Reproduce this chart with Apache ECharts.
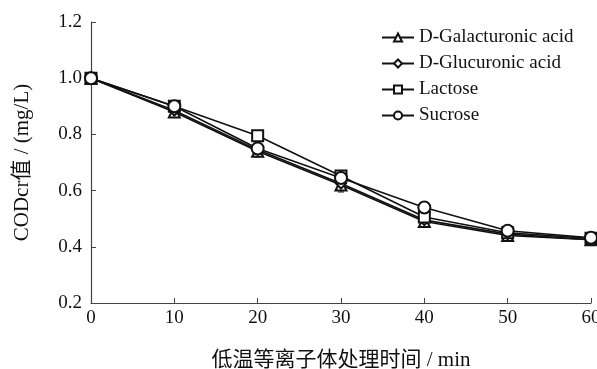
<!DOCTYPE html>
<html><head><meta charset="utf-8">
<script src="https://cdn.jsdelivr.net/npm/echarts@6/dist/echarts.min.js"></script>
<style>html,body{margin:0;padding:0;background:#fff}#c{width:597px;height:369px}</style>
</head><body><div id="c"></div>
<script>
const xValues = [0, 10, 20, 30, 40, 50, 60];
const galacturonic = [1.0, 0.88, 0.74, 0.62, 0.49, 0.44, 0.425];
const glucuronic = [1.0, 0.885, 0.745, 0.625, 0.495, 0.445, 0.425];
const lactose = [1.0, 0.90, 0.795, 0.652, 0.506, 0.45, 0.43];
const sucrose = [1.0, 0.90, 0.75, 0.645, 0.54, 0.457, 0.432];
const galacturonicErr = [0, 0.01, 0.02, 0.025, 0.01, 0.02, 0.015];
const seriesNames = ['D-Galacturonic acid', 'D-Glucuronic acid', 'Lactose', 'Sucrose'];
const yTicks = ['0.2', '0.4', '0.6', '0.8', '1.0', '1.2'];

const FONT = "'Liberation Serif', 'Noto Sans CJK SC', serif";
const symbols = ['emptyTriangle', 'emptyDiamond', 'emptyRect', 'emptyCircle'];
const sizes = [11, 10, 11, 12];
const allData = [galacturonic, glucuronic, lactose, sucrose];

const series = allData.map((d, i) => ({
  name: seriesNames[i], type: 'line',
  data: d.map((v, j) => [xValues[j], v]),
  symbol: symbols[i], symbolSize: sizes[i],
  lineStyle: {color: '#111', width: 1.6},
  itemStyle: {color: '#111', borderWidth: 1.6, borderColor: '#111'},
  z: 3 + i
}));

series.push({
  type: 'custom', name: 'err', silent: true, z: 2,
  data: galacturonic.map((v, j) => [xValues[j], v - galacturonicErr[j], v + galacturonicErr[j]]),
  renderItem: function (params, api) {
    const x = api.value(0);
    const lo = api.coord([x, api.value(1)]);
    const hi = api.coord([x, api.value(2)]);
    const w = 3;
    return {type: 'group', children: [
      {type: 'line', shape: {x1: lo[0], y1: lo[1], x2: hi[0], y2: hi[1]}, style: {stroke: '#111', lineWidth: 1}},
      {type: 'line', shape: {x1: lo[0]-w, y1: lo[1], x2: lo[0]+w, y2: lo[1]}, style: {stroke: '#111', lineWidth: 1}},
      {type: 'line', shape: {x1: hi[0]-w, y1: hi[1], x2: hi[0]+w, y2: hi[1]}, style: {stroke: '#111', lineWidth: 1}}
    ]};
  }
});

const chart = echarts.init(document.getElementById('c'), null, {renderer: 'canvas'});
chart.setOption({
  animation: false,
  backgroundColor: '#fff',
  grid: {left: 91, right: 6, top: 22, bottom: 66, containLabel: false, outerBoundsMode: 'none'},
  legend: {
    data: seriesNames, orient: 'vertical', left: 376, top: 23,
    itemWidth: 32, itemHeight: 10, itemGap: 7,
    textStyle: {fontFamily: FONT, fontSize: 19, color: '#111'},
    inactiveColor: '#111'
  },
  xAxis: {
    type: 'value', min: 0, max: 60, interval: 10,
    name: '低温等离子体处理时间 / min', nameLocation: 'middle', nameGap: 47,
    nameTextStyle: {fontFamily: FONT, fontSize: 21, color: '#111'},
    axisLine: {lineStyle: {color: '#444', width: 1.2}},
    axisTick: {inside: true, length: 5, lineStyle: {color: '#444'}},
    axisLabel: {fontFamily: FONT, fontSize: 19, color: '#111', margin: 6},
    splitLine: {show: false}
  },
  yAxis: {
    type: 'value', min: 0.2, max: 1.2, interval: 0.2,
    name: 'CODcr值 / (mg/L)', nameLocation: 'middle', nameGap: 58, nameRotate: 90,
    nameTextStyle: {fontFamily: FONT, fontSize: 21, color: '#111'},
    axisLine: {show: true, lineStyle: {color: '#444', width: 1.2}},
    axisTick: {show: true, inside: true, length: 5, lineStyle: {color: '#444'}},
    axisLabel: {fontFamily: FONT, fontSize: 19, color: '#111', margin: 9,
      formatter: function (v) { const s = v.toFixed(1); return yTicks.indexOf(s) >= 0 ? s : ''; }},
    splitLine: {show: false}
  },
  series: series
});
</script></body></html>
